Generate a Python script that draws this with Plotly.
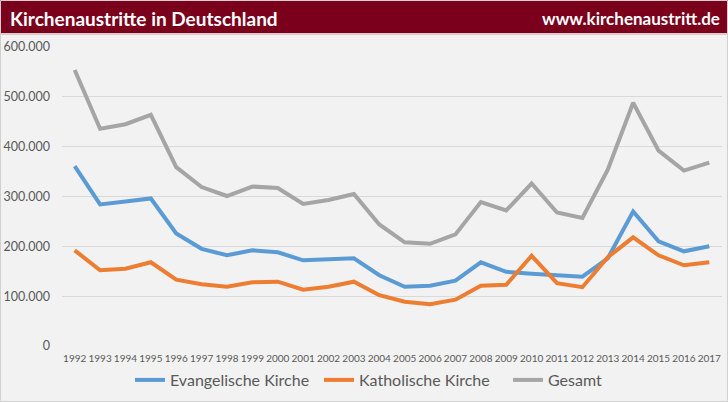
import plotly.graph_objects as go

years = [str(y) for y in range(1992, 2018)]
evangelisch = [361000, 284000, 290000, 296000, 226000, 195000, 182000, 192000, 188000, 172000,
               174000, 176000, 142000, 119000, 121000, 131000, 168000, 149000, 145000, 142000,
               139000, 176000, 270000, 210000, 190000, 200000]
katholisch = [192000, 152000, 155000, 168000, 133000, 124000, 119000, 128000, 129000, 113000,
              119000, 129000, 102000, 89000, 84000, 93000, 121000, 123000, 181000, 126000,
              118000, 178000, 218000, 182000, 162000, 168000]
gesamt = [554000, 436000, 445000, 464000, 359000, 319000, 301000, 320000, 317000, 285000,
          293000, 305000, 244000, 208000, 205000, 224000, 289000, 272000, 326000, 268000,
          257000, 354000, 488000, 392000, 352000, 368000]
series_names = ["Evangelische Kirche", "Katholische Kirche", "Gesamt"]
colors = ["#5b9bd5", "#ed7d31", "#a5a5a5"]
title_left = "Kirchenaustritte in Deutschland"
title_right = "www.kirchenaustritt.de"

W, H = 728, 402
ml, mr, mt, mb = 62, 6, 47, 56
ph = H - mt - mb
pw = W - ml - mr

def py(px):  # pixel y from top -> paper y
    return 1 - (px - mt) / ph

def pxx(px):
    return (px - ml) / pw

fig = go.Figure()
for name, vals, col in zip(series_names, [evangelisch, katholisch, gesamt], colors):
    fig.add_trace(go.Scatter(x=years, y=vals, name=name, mode="lines",
                             line=dict(color=col, width=4)))

font = "Lato, 'Open Sans', sans-serif"
fig.update_layout(
    width=W, height=H,
    margin=dict(l=ml, r=mr, t=mt, b=mb, autoexpand=False),
    paper_bgcolor="#f2f2f2", plot_bgcolor="#f2f2f2",
    separators=",.",
    font=dict(family=font, color="#595959"),
    showlegend=True,
    legend=dict(orientation="h", x=pxx(130), xanchor="left", y=py(380), yanchor="middle",
                font=dict(size=16, color="#595959"), itemwidth=30, entrywidth=144,
                bgcolor="rgba(0,0,0,0)"),
    xaxis=dict(type="category", showgrid=False, zeroline=False, showline=False,
               ticks="", tickfont=dict(size=10, color="#595959"), tickangle=0,
               ticklabelstandoff=5,
               range=[-0.5, len(years) - 0.5]),
    yaxis=dict(range=[0, 600000], dtick=100000, tickformat=",d", showgrid=True,
               gridcolor="#d9d9d9", gridwidth=1, zeroline=False, showline=False,
               tickfont=dict(size=12.5, color="#595959"), ticks="", ticklen=0,
               ticklabelstandoff=11),
    shapes=[
        dict(type="rect", xref="paper", yref="paper", x0=pxx(0), x1=pxx(W),
             y0=py(33), y1=py(0), fillcolor="#7a001c", line=dict(width=0), layer="above"),
        dict(type="line", xref="paper", yref="paper", x0=pxx(0), x1=pxx(W),
             y0=py(34), y1=py(34), line=dict(color="#c9a0a8", width=1)),
        dict(type="rect", xref="paper", yref="paper", x0=pxx(0.5), x1=pxx(W - 0.5),
             y0=py(H - 0.5), y1=py(0.5), line=dict(color="#d0d0d0", width=1)),
    ],
    annotations=[
        dict(text="<b>" + title_left + "</b>", xref="paper", yref="paper", x=pxx(8),
             y=py(18), xanchor="left", yanchor="middle", showarrow=False,
             font=dict(size=19, color="white", family=font)),
        dict(text="<b>" + title_right + "</b>", xref="paper", yref="paper", x=pxx(722),
             y=py(18), xanchor="right", yanchor="middle", showarrow=False,
             font=dict(size=17, color="white", family=font)),
    ],
)

fig.write_html("out.html")
